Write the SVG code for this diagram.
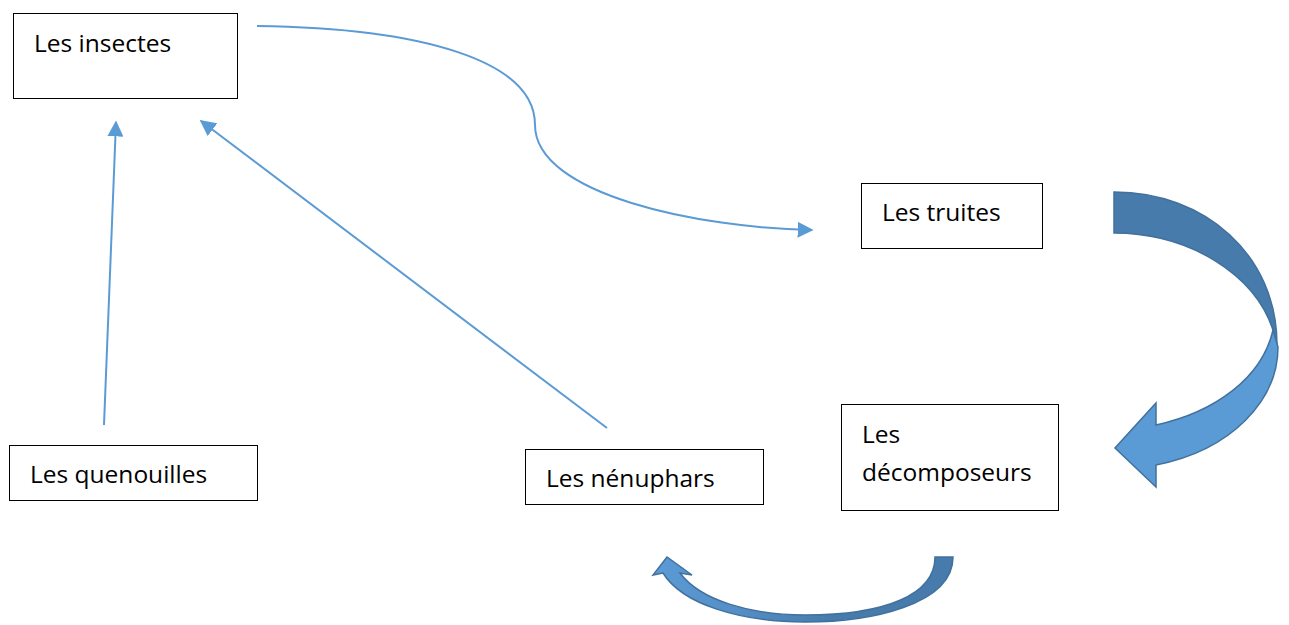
<svg xmlns="http://www.w3.org/2000/svg" width="1289" height="625" viewBox="0 0 1289 625">
<style>
.box{fill:#fff;stroke:#000;stroke-width:1}
.lbl{font-family:"Open Sans","Liberation Sans",Arial,sans-serif;font-size:24.5px;fill:#000}
.con{fill:none;stroke:#5b9bd5;stroke-width:2}
.dark{fill:#477bac;stroke:#41719c;stroke-width:1.5;stroke-linejoin:miter}
.light{fill:#5b9bd5;stroke:#41719c;stroke-width:1.5;stroke-linejoin:miter}
</style>
<defs>
<marker id="ah2" viewBox="0 0 10 10" refX="9" refY="5" markerWidth="16" markerHeight="16" markerUnits="userSpaceOnUse" orient="auto">
<path d="M0,0 L10,5 L0,10 Z" fill="#5b9bd5"/>
</marker>
<linearGradient id="bg" x1="653" y1="0" x2="953" y2="0" gradientUnits="userSpaceOnUse">
<stop offset="0" stop-color="#5b9bd5"/>
<stop offset="0.25" stop-color="#5590c8"/>
<stop offset="0.6" stop-color="#477bac"/>
<stop offset="1" stop-color="#477bac"/>
</linearGradient>
</defs>
<rect width="1289" height="625" fill="#fff"/>
<g id="connectors">
<path class="con" d="M257,26 C420,28 535,60 535,125 C535,195 700,228 812,230" marker-end="url(#ah2)"/>
<path class="con" d="M104,425 L116,122" marker-end="url(#ah2)"/>
<path class="con" d="M607,428 L201,121" marker-end="url(#ah2)"/>
<g id="curved-arrow-right">
<path class="dark" d="M1114,192 C1205,192 1277,255 1277,345 L1273,330 C1255,275 1190,233 1114,233 Z"/>
<path class="light" d="M1273,330 C1262,378 1215,412 1156,425 L1156,403 L1115,448 L1156,487 L1156,465 C1232,450 1278,400 1278,347 Z"/>
</g>
<g id="curved-arrow-bottom">
<path fill="url(#bg)" stroke="#41719c" stroke-width="1.5" d="M953,557 C953,605 870,622 805,622 C740,622 682,604 663,573 L653,575 L667,557 L692,575 L680,573 C700,600 750,615 805,615 C885,615 935,595 935,557 Z"/>
</g>
</g>
<g id="n-insectes">
<rect class="box" x="13.5" y="13.5" width="224" height="85"/>
<text class="lbl" x="34" y="52">Les insectes</text>
</g>
<g id="n-truites">
<rect class="box" x="861.5" y="183.5" width="181" height="65"/>
<text class="lbl" x="882" y="221">Les truites</text>
</g>
<g id="n-quenouilles">
<rect class="box" x="9.5" y="445.5" width="248" height="55"/>
<text class="lbl" x="30" y="483">Les quenouilles</text>
</g>
<g id="n-nenuphars">
<rect class="box" x="525.5" y="449.5" width="238" height="55"/>
<text class="lbl" x="546" y="487">Les nénuphars</text>
</g>
<g id="n-decomposeurs">
<rect class="box" x="841.5" y="404.5" width="217" height="106"/>
<text class="lbl" x="862" y="443">Les</text>
<text class="lbl" x="862" y="481">décomposeurs</text>
</g>
</svg>
